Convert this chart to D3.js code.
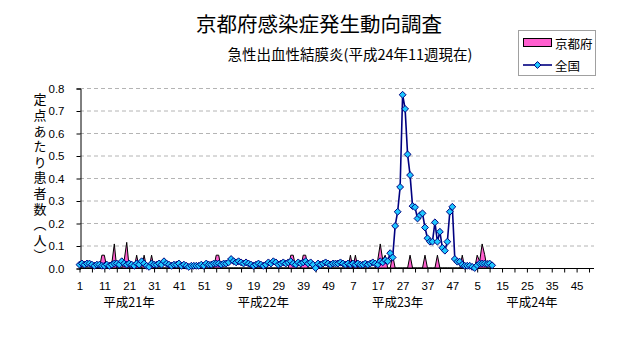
<!DOCTYPE html>
<html><head><meta charset="utf-8">
<script src="https://cdn.jsdelivr.net/npm/d3@7"></script>
<style>html,body{margin:0;padding:0;background:#fff}svg{display:block}</style>
</head><body>
<svg id="chart" width="632" height="348"></svg>
<script>
// ---------- data ----------
const title = "京都府感染症発生動向調査";
const subtitle = "急性出血性結膜炎(平成24年11週現在)";
const yAxisTitle = "定点あたり患者数（人）";
const seriesNames = ["京都府", "全国"];
const yearLabels = ["平成21年", "平成22年", "平成23年", "平成24年"];
const weeksPerYear = 52;
const yTickValues = [0, 0.1, 0.2, 0.3, 0.4, 0.5, 0.6, 0.7, 0.8];

// 全国 (national) per week
const national2009 = [0.015,0.02,0.015,0.02,0.02,0.015,0.01,0.015,0.015,0.01,
  0.01,0.015,0.01,0.015,0.02,0.02,0.015,0.03,0.02,0.015,
  0.02,0.015,0.01,0.02,0.015,0.03,0.02,0.01,0.005,0.02,
  0.015,0.015,0.02,0.015,0.03,0.02,0.015,0.01,0.015,0.015,
  0.02,0.01,0.015,0.01,0.005,0.01,0.01,0.01,0.01,0.015,0.01,0.02];
const national2010 = [0.015,0.015,0.02,0.02,0.02,0.015,0.02,0.02,0.025,0.04,
  0.03,0.025,0.03,0.025,0.02,0.025,0.02,0.015,0.01,0.015,
  0.02,0.015,0.01,0.015,0.025,0.02,0.03,0.025,0.015,0.02,
  0.025,0.02,0.025,0.03,0.02,0.015,0.025,0.02,0.025,0.03,
  0.02,0.025,0.015,0.0,0.02,0.015,0.02,0.025,0.02,0.015,0.02,0.02];
const national2011 = [0.02,0.025,0.02,0.015,0.02,0.015,0.02,0.015,0.02,0.015,
  0.015,0.02,0.015,0.02,0.025,0.02,0.015,0.03,0.025,0.035,
  0.03,0.066,0.047,0.187,0.25,0.36,0.77,0.707,0.505,0.413,
  0.275,0.27,0.22,0.235,0.243,0.18,0.132,0.117,0.117,0.203,
  0.117,0.161,0.09,0.077,0.117,0.25,0.272,0.04,0.028,0.028,0.015,0.01];
const national2012 = [0.01,0.01,0.005,0.0,0.012,0.02,0.02,0.02,0.018,0.02,0.012];

// 京都府 (Kyoto) per week
const kyoto2009 = [0,0,0,0,0,0,0,0,0,0.057,
  0.057,0,0,0.02,0.107,0,0,0,0.036,0.114,
  0,0,0,0.057,0,0,0.057,0,0,0.057,
  0,0,0,0,0,0,0,0,0,0,
  0,0,0,0,0,0,0,0,0,0,0,0];
const kyoto2010 = [0,0,0,0.057,0.057,0,0,0,0,0,
  0,0,0,0,0,0,0,0,0,0,
  0,0,0,0,0,0,0,0,0,0,
  0,0,0,0.057,0.057,0,0,0,0.057,0.057,
  0,0,0,0,0,0,0,0,0,0,0,0];
const kyoto2011 = [0,0,0,0,0,0.057,0,0.057,0,0,
  0,0,0,0,0,0,0.036,0.107,0.036,0.057,
  0,0,0.057,0,0,0,0,0,0,0.057,
  0,0,0,0,0,0.057,0,0,0,0,
  0.057,0,0,0,0,0,0,0,0,0,0.057,0];
const kyoto2012 = [0,0,0,0,0.057,0.03,0.107,0.06,0,0,0];

// ---------- build ----------
const national = [].concat(national2009, national2010, national2011, national2012)
  .map((v, i) => ({i: i + 1, v}));
const kyoto = [].concat(kyoto2009, kyoto2010, kyoto2011, kyoto2012)
  .map((v, i) => ({i: i + 1, v}));
const nCats = weeksPerYear * yearLabels.length;
const cats = d3.range(1, nCats + 1);
const weekOf = i => ((i - 1) % weeksPerYear) + 1;

const svg = d3.select("#chart");
const jp = "'Noto Sans CJK JP', sans-serif";
const num = "'Liberation Sans', Arial, sans-serif";

const x = d3.scalePoint().domain(cats).range([79.5, 594]);
const y = d3.scaleLinear().domain([0, 0.8]).range([268, 88]);

// title
svg.append("text").attr("x", 319).attr("y", 23).attr("text-anchor", "middle")
  .attr("dominant-baseline", "central").attr("font-family", jp).attr("font-size", 20.5)
  .attr("fill", "#000").text(title);
svg.append("text").attr("x", 350).attr("y", 53).attr("text-anchor", "middle")
  .attr("dominant-baseline", "central").attr("font-family", jp).attr("font-size", 14.5)
  .attr("fill", "#000").text(subtitle);

// grid
svg.append("g").selectAll("line").data(yTickValues.filter(d => d > 0)).join("line")
  .attr("x1", 80).attr("x2", 594).attr("y1", d => y(d) + 0.5).attr("y2", d => y(d) + 0.5)
  .attr("stroke", "#b4b4b4").attr("stroke-width", 1).attr("stroke-dasharray", "4,3");

// Kyoto area
const area = d3.area().x(d => x(d.i)).y0(y(0)).y1(d => y(d.v));
svg.append("path").datum(kyoto).attr("d", area)
  .attr("fill", "#ff5fcf").attr("stroke", "#000").attr("stroke-width", 1);

// national line
const line = d3.line().x(d => x(d.i)).y(d => y(d.v));
svg.append("path").datum(national).attr("d", line)
  .attr("fill", "none").attr("stroke", "#000080").attr("stroke-width", 1.6);

// axes
const yAxis = d3.axisLeft(y).tickValues(yTickValues).tickSize(4)
  .tickFormat(d3.format(".1f"));
const gy = svg.append("g").attr("transform", "translate(80.5,0.5)").call(yAxis);
gy.select(".domain").attr("stroke", "#000");
gy.selectAll(".tick line").attr("stroke", "#000");
gy.selectAll(".tick text").attr("font-family", num).attr("font-size", 11.5)
  .attr("fill", "#000").attr("x", -16);

const xAxis = d3.axisBottom(x)
  .tickValues(cats.filter(i => (i - 1) % 5 === 0))
  .tickSize(4).tickSizeOuter(0)
  .tickFormat(i => (i - 1) % 10 === 0 ? String(weekOf(i)) : "");
const gx = svg.append("g").attr("transform", "translate(0,268.5)").call(xAxis);
gx.select(".domain").attr("stroke", "#000").attr("d", "M79.5,0H594");
gx.selectAll(".tick line").attr("stroke", "#000");
gx.selectAll(".tick text").attr("font-family", num).attr("font-size", 11.5)
  .attr("fill", "#000").attr("y", 13);

// markers
const diamond = d3.symbol().type(d3.symbolDiamond2).size(30);
svg.append("g").selectAll("path").data(national).join("path")
  .attr("transform", d => `translate(${x(d.i)},${y(d.v)})`)
  .attr("d", diamond).attr("fill", "#1ec8ff").attr("stroke", "#000080").attr("stroke-width", 1);

// year labels
svg.append("g").selectAll("text").data(yearLabels).join("text")
  .attr("x", (d, k) => 129 + k * 134.3).attr("y", 301)
  .attr("text-anchor", "middle").attr("dominant-baseline", "central")
  .attr("font-family", jp).attr("font-size", 12.5).attr("fill", "#000").text(d => d);

// y axis title (vertical)
svg.append("text").attr("x", 40).attr("y", 93)
  .attr("font-family", jp).attr("font-size", 13)
  .style("writing-mode", "vertical-rl").attr("letter-spacing", 2.6)
  .attr("fill", "#000").text(yAxisTitle);

// legend
const lg = svg.append("g");
lg.append("rect").attr("x", 518.5).attr("y", 30.5).attr("width", 77).attr("height", 45)
  .attr("fill", "#fff").attr("stroke", "#a0a0a0");
lg.append("rect").attr("x", 523.5).attr("y", 38.5).attr("width", 28).attr("height", 8)
  .attr("fill", "#ff5fcf").attr("stroke", "#000");
lg.append("line").attr("x1", 523).attr("x2", 552).attr("y1", 65).attr("y2", 65)
  .attr("stroke", "#000080").attr("stroke-width", 1.6);
lg.append("path").attr("transform", "translate(537.5,65)").attr("d", diamond)
  .attr("fill", "#1ec8ff").attr("stroke", "#000080").attr("stroke-width", 1);
lg.selectAll("text.lt").data(seriesNames).join("text").attr("class", "lt")
  .attr("x", 555).attr("y", (d, k) => 43 + k * 22).attr("dominant-baseline", "central")
  .attr("font-family", jp).attr("font-size", 12.5).attr("fill", "#000").text(d => d);
</script>
</body></html>
